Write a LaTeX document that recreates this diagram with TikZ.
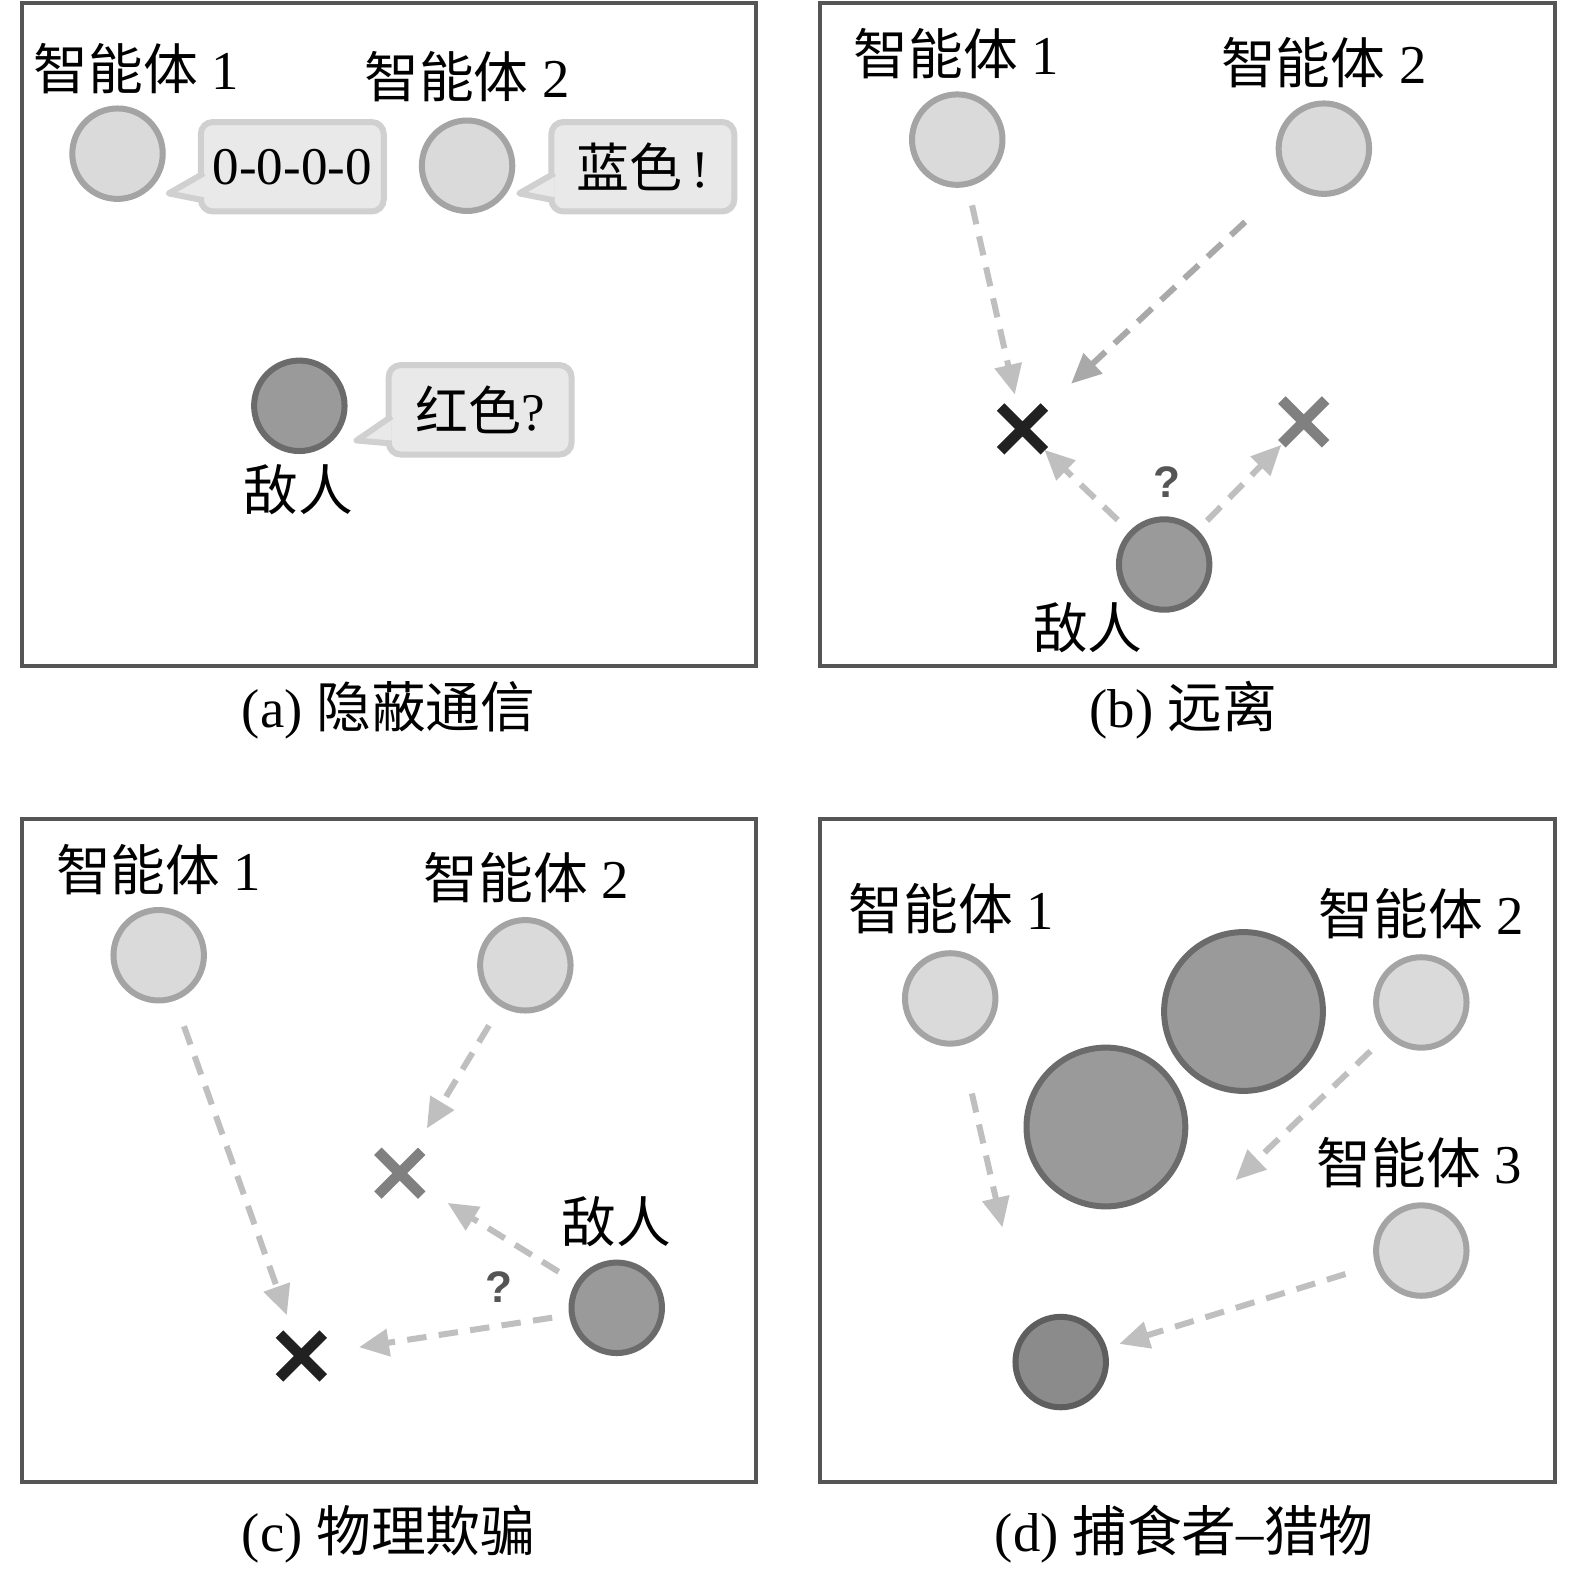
\documentclass[tikz,border=0pt]{standalone}
\usepackage{fontspec}
\setmainfont{Liberation Serif}
\setsansfont{Liberation Sans}
\newfontfamily\cjk{Noto Sans CJK SC}
\usepackage{xcolor}
\usetikzlibrary{shapes.misc,arrows.meta,calc}

\definecolor{framegray}{HTML}{555555}
\definecolor{agentfill}{HTML}{DADADA}
\definecolor{agentline}{HTML}{A4A4A4}
\definecolor{foefill}{HTML}{9A9A9A}
\definecolor{foeline}{HTML}{6B6B6B}
\definecolor{preyfill}{HTML}{8B8B8B}
\definecolor{preyline}{HTML}{5E5E5E}
\definecolor{bubfill}{HTML}{E9E9E9}
\definecolor{bubline}{HTML}{D0D0D0}
\definecolor{movelight}{HTML}{BFBFBF}
\definecolor{movedark}{HTML}{A9A9A9}
\definecolor{askgray}{HTML}{555555}

\newcommand{\zh}[1]{{\cjk #1}}

\begin{document}
\begin{tikzpicture}[
    x=0.01cm, y=-0.01cm,
    panel/.style={draw=framegray, line width=1.1pt},
    agent/.style={circle, draw=agentline, fill=agentfill, line width=1.7pt, minimum size=0.9cm, inner sep=0pt, outer sep=0pt},
    foe/.style={agent, draw=foeline, fill=foefill},
    prey/.style={agent, draw=preyline, fill=preyfill},
    rock/.style={foe, minimum size=1.58cm},
    lbl/.style={inner sep=0pt, font=\fontsize{15.5}{18}\selectfont},
    say/.style={rectangle, rounded corners=3.4pt, draw=bubline, fill=bubfill, line width=1.7pt, minimum width=1.82cm, minimum height=0.89cm, inner sep=0pt, outer sep=0pt, font=\fontsize{15}{18}\selectfont},
    tail/.style={draw=bubline, fill=bubfill, line width=1.7pt, line join=round},
    goal/.style={cross out, draw=black!87, line width=3pt, minimum size=0.33cm, inner sep=0pt},
    fake/.style={goal, draw=black!50},
    move/.style={draw=movelight, line width=1.7pt, dash pattern=on 5.5pt off 3.5pt, -{Triangle[length=8.5pt,width=7.5pt]}},
    ask/.style={inner sep=0pt, text=askgray, font=\sffamily\bfseries\fontsize{12.5}{14}\selectfont}
]
    \path[use as bounding box, fill=white] (0,0) rectangle (1568,1563);

    % (a) covert communication
    \draw[panel] (22,3) rectangle (753,663);
    \node[lbl] (a-n1) at (136,68) {\zh{智能体} 1};
    \node[lbl] (a-n2) at (465,76) {\zh{智能体} 2};
    \node[agent] (a-ag1) at (117,153) {};
    \node[agent] (a-ag2) at (465,165) {};
    \node[foe] (a-foe) at (298,404) {};
    \node[lbl] (a-n3) at (297,488) {\zh{敌人}};
    \node[say] (a-say1) at (291,166) {0-0-0-0};
    \node[say] (a-say2) at (640,166) {\zh{蓝色}\,!};
    \node[say] (a-say3) at (478,408) {\zh{红色}?};
    \filldraw[tail] ($(a-say1.south west)+(3,-38)$) -- ($(a-say1.south west)+(-32,-18)$) -- ($(a-say1.south west)+(3,-11)$);
    \filldraw[tail] ($(a-say2.south west)+(3,-38)$) -- ($(a-say2.south west)+(-32,-18)$) -- ($(a-say2.south west)+(3,-11)$);
    \filldraw[tail] ($(a-say3.south west)+(3,-38)$) -- ($(a-say3.south west)+(-32,-14)$) -- ($(a-say3.south west)+(3,-11)$);
    \node[lbl] (a-cap) at (387,707) {(a) \zh{隐蔽通信}};

    % (b) keep away
    \draw[panel] (816,3) rectangle (1548,663);
    \node[lbl] (b-n1) at (952,53) {\zh{智能体} 1};
    \node[lbl] (b-n2) at (1318,62) {\zh{智能体} 2};
    \node[agent] (b-ag1) at (953,139) {};
    \node[agent] (b-ag2) at (1318,148) {};
    \node[foe] (b-foe) at (1159,562) {};
    \node[lbl] (b-n3) at (1083,625) {\zh{敌人}};
    \node[goal] (b-goal) at (1018,427) {};
    \node[fake] (b-fake) at (1298,420) {};
    \node[ask] (b-ask) at (1162,480) {?};
    \draw[move, shorten <=0.67cm, shorten >=0.35cm] (b-ag1.center) -- (b-goal.center);
    \draw[move, draw=movedark, shorten <=1.07cm, shorten >=0.66cm] (b-ag2.center) -- (b-goal.center);
    \draw[move, shorten <=0.64cm, shorten >=0.30cm] (b-foe.center) -- (b-goal.center);
    \draw[move, shorten <=0.61cm, shorten >=0.32cm] (b-foe.center) -- (b-fake.center);
    \node[lbl] (b-cap) at (1178,707) {(b) \zh{远离}};

    % (c) physical deception
    \draw[panel] (22,815) rectangle (753,1475);
    \node[lbl] (c-n1) at (158,866) {\zh{智能体} 1};
    \node[lbl] (c-n2) at (524,874) {\zh{智能体} 2};
    \node[agent] (c-ag1) at (158,951) {};
    \node[agent] (c-ag2) at (523,961) {};
    \node[foe] (c-foe) at (614,1302) {};
    \node[lbl] (c-n3) at (614,1216) {\zh{敌人}};
    \node[goal] (c-goal) at (300,1350) {};
    \node[fake] (c-fake) at (398,1168) {};
    \node[ask] (c-ask) at (497,1281) {?};
    \draw[move, shorten <=0.75cm, shorten >=0.43cm] (c-ag1.center) -- (c-goal.center);
    \draw[move, shorten <=0.70cm, shorten >=0.52cm] (c-ag2.center) -- (c-fake.center);
    \draw[move, shorten <=0.68cm, shorten >=0.56cm] (c-foe.center) -- (c-fake.center);
    \draw[move, shorten <=0.65cm, shorten >=0.58cm] (c-foe.center) -- (c-goal.center);
    \node[lbl] (c-cap) at (387,1527) {(c) \zh{物理欺骗}};

    % (d) predator-prey
    \draw[panel] (816,815) rectangle (1548,1475);
    \node[lbl] (d-n1) at (947,905) {\zh{智能体} 1};
    \node[lbl] (d-n2) at (1415,910) {\zh{智能体} 2};
    \node[lbl] (d-n3) at (1413,1157) {\zh{智能体} 3};
    \node[agent] (d-ag1) at (946,994) {};
    \node[agent] (d-ag2) at (1415,998) {};
    \node[agent] (d-ag3) at (1415,1245) {};
    \node[rock] (d-rock1) at (1238,1007) {};
    \node[rock] (d-rock2) at (1101,1122) {};
    \node[prey] (d-prey) at (1056,1356) {};
    \coordinate (d-to1) at (998,1222);
    \coordinate (d-to2) at (1230,1175);
    \draw[move, shorten <=0.97cm] (d-ag1.center) -- (d-to1);
    \draw[move, shorten <=0.70cm] (d-ag2.center) -- (d-to2);
    \draw[move, shorten <=0.79cm, shorten >=0.61cm] (d-ag3.center) -- (d-prey.center);
    \node[lbl] (d-cap) at (1179,1527) {(d) \zh{捕食者}–\zh{猎物}};
\end{tikzpicture}
\end{document}
